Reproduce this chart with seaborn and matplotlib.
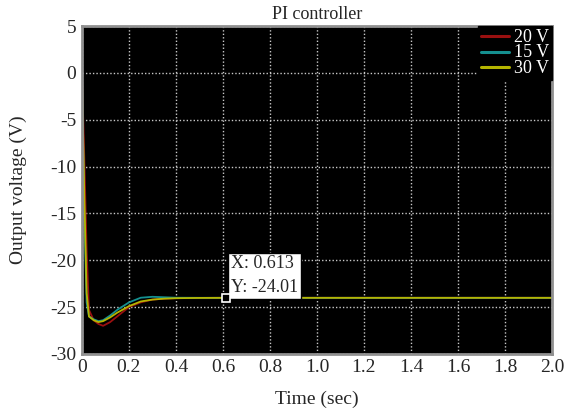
import matplotlib
matplotlib.use("Agg")
import matplotlib.pyplot as plt
import seaborn as sns
import pandas as pd

# Data
t = [0, 0.01, 0.02, 0.03, 0.05, 0.07, 0.09, 0.12, 0.15, 0.2, 0.25, 0.3, 0.35, 0.4, 0.5, 0.613, 1.0, 2.0]
v20 = [0, -9, -19, -25.3, -26.4, -26.8, -27.0, -26.6, -26.0, -25.0, -24.5, -24.2, -24.1, -24.05, -24.02, -24.01, -24.01, -24.01]
v15 = [0, -15, -24.5, -26.0, -26.3, -26.5, -26.4, -25.9, -25.3, -24.5, -24.0, -23.9, -23.95, -24.0, -24.01, -24.01, -24.01, -24.01]
v30 = [0, -13, -23.5, -26.0, -26.4, -26.6, -26.5, -26.1, -25.6, -24.9, -24.4, -24.2, -24.1, -24.05, -24.02, -24.01, -24.01, -24.01]
series_labels = ["20 V", "15 V", "30 V"]
xticks = [0, 0.2, 0.4, 0.6, 0.8, 1.0, 1.2, 1.4, 1.6, 1.8, 2.0]
xticklabels = ["0", "0.2", "0.4", "0.6", "0.8", "1.0", "1.2", "1.4", "1.6", "1.8", "2.0"]
yticks = [5, 0, -5, -10, -15, -20, -25, -30]
tip_x, tip_y = 0.613, -24.01

df = pd.concat([
    pd.DataFrame({"t": t, "v": v, "series": lab})
    for v, lab in zip([v20, v15, v30], series_labels)
])

sns.set_style("dark")
plt.rcParams["font.family"] = ["Liberation Serif", "DejaVu Serif"]
plt.rcParams["axes.unicode_minus"] = False

fig = plt.figure(figsize=(5.69, 4.13), dpi=100)
ax = fig.add_axes([0.144, 0.143, 0.826, 0.794])
ax.set_facecolor("black")

palette = {"20 V": "#9a1010", "15 V": "#159090", "30 V": "#b5b500"}
sns.lineplot(data=df, x="t", y="v", hue="series", palette=palette,
             hue_order=series_labels, linewidth=1.3, ax=ax, estimator=None)

ax.set_xlim(0, 2.0)
ax.set_ylim(-30, 5)
ax.set_xticks(xticks)
ax.set_xticklabels(xticklabels)
ax.set_yticks(yticks)
ax.set_yticklabels([str(y) for y in yticks])
ax.tick_params(length=0, labelsize=14, pad=4)
ax.grid(True, color="#c8c8c8", linestyle=(0, (1, 1.5)), linewidth=1.0)
ax.set_axisbelow(True)
for s in ax.spines.values():
    s.set_visible(True)
    s.set_color("#909090")
    s.set_linewidth(2)

ax.set_xlabel("Time (sec)", fontsize=14, labelpad=10)
ax.set_ylabel("Output voltage (V)", fontsize=14, labelpad=17)
ax.set_title("PI controller", fontsize=13, pad=5)

leg = ax.legend(loc="upper right", fontsize=13, facecolor="black", frameon=True,
                edgecolor="black", framealpha=1, labelspacing=-0.08, handlelength=1.55,
                handleheight=0.5, handletextpad=0.3, borderaxespad=0.0, borderpad=0.15,
                fancybox=False)
for txt in leg.get_texts():
    txt.set_color("white")
for line in leg.get_lines():
    line.set_linewidth(2.2)

# data tip
ax.plot([tip_x], [tip_y], marker="s", markersize=6, markerfacecolor="black",
        markeredgecolor="white", markeredgewidth=1.2, zorder=5)
ax.annotate(f"X: {tip_x}\nY: {tip_y}", xy=(tip_x, tip_y), xytext=(5, 2),
            textcoords="offset pixels", ha="left", va="bottom", fontsize=13,
            linespacing=1.5,
            bbox=dict(boxstyle="square,pad=0.15", facecolor="white", edgecolor="black"))

fig.savefig("out.png", dpi=100, facecolor="white")
